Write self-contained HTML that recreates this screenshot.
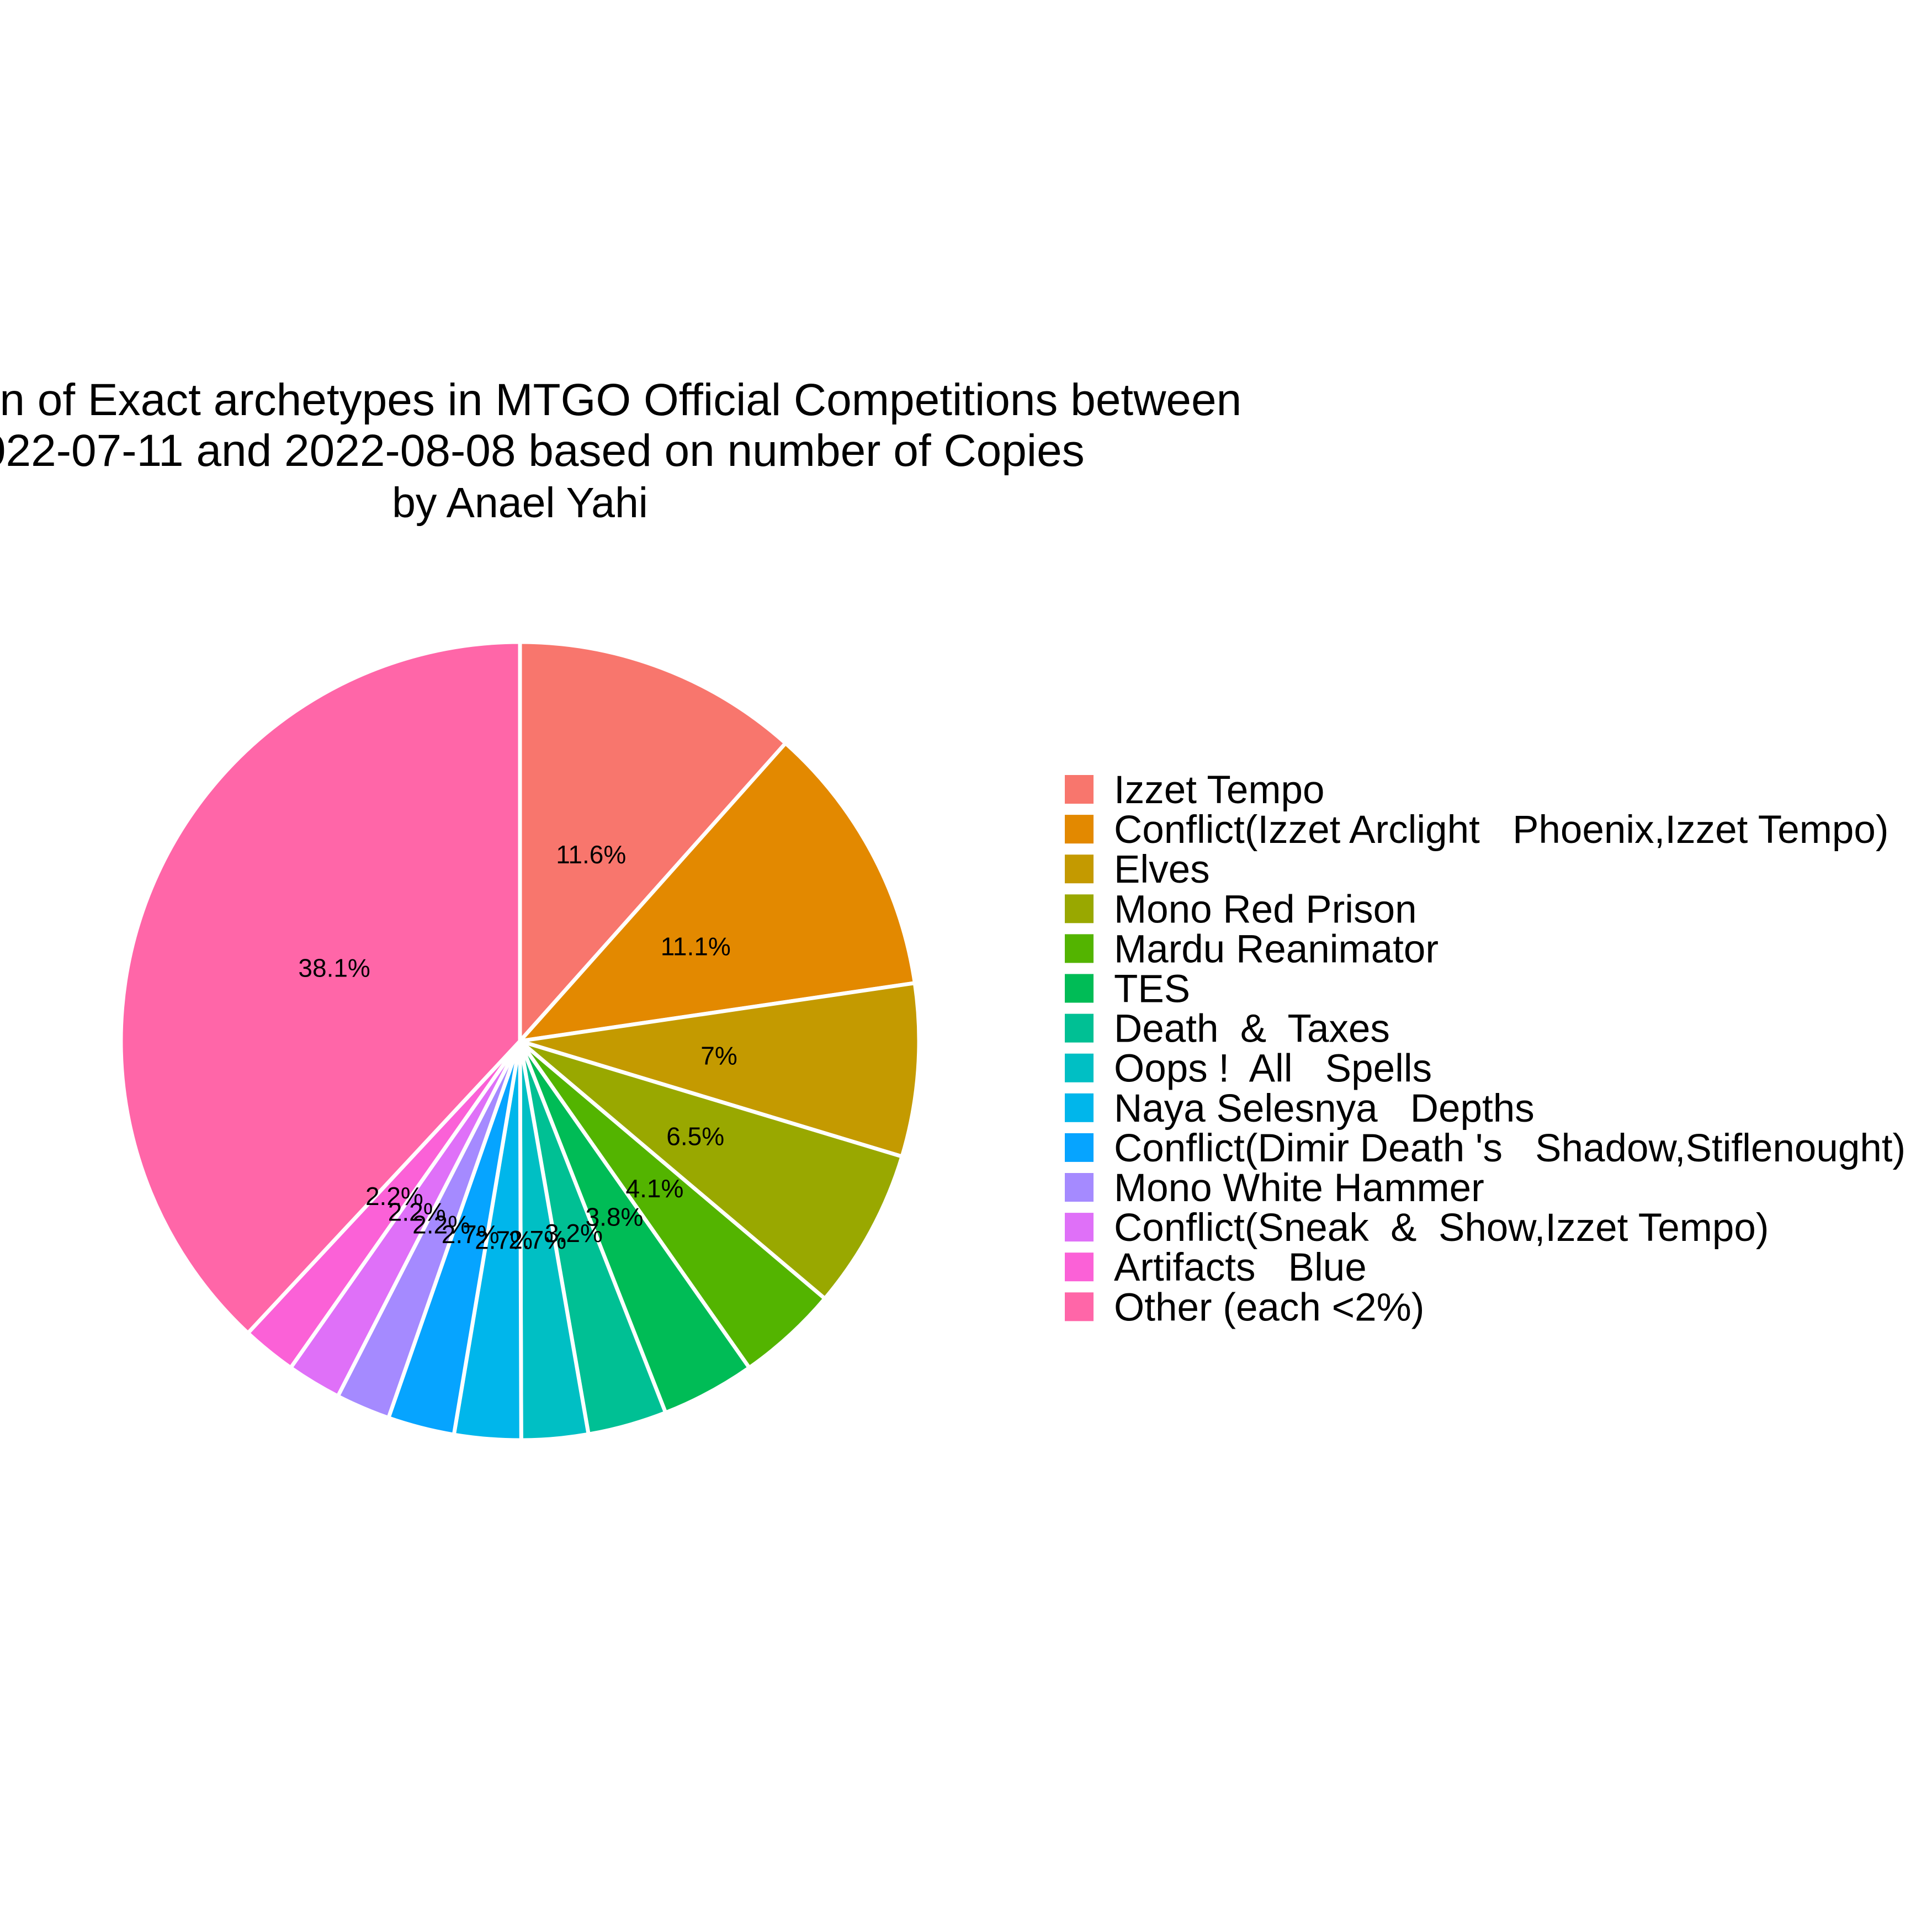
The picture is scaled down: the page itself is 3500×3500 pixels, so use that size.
<!DOCTYPE html>
<html><head><meta charset="utf-8"><style>
body{margin:0;background:#fff}
svg{display:block;font-family:"Liberation Sans",Arial,sans-serif}
</style></head><body>
<svg id="chart" width="3500" height="3500" viewBox="0 0 3500 3500">
<rect width="3500" height="3500" fill="#fff"/>
<text x="942" y="752" font-size="82" text-anchor="middle">Distribution of Exact archetypes in MTGO Official Competitions between</text>
<text x="942" y="844" font-size="82" text-anchor="middle">2022-07-11 and 2022-08-08 based on number of Copies</text>
<text x="942" y="937" font-size="77" text-anchor="middle">by Anael Yahi</text>
<g id="slices"></g>
<g id="labels"></g>
<g id="legend"></g>
</svg>
<script>
const categories = ["Izzet Tempo","Conflict(Izzet Arclight   Phoenix,Izzet Tempo)","Elves","Mono Red Prison","Mardu Reanimator","TES","Death  &  Taxes","Oops !  All   Spells","Naya Selesnya   Depths","Conflict(Dimir Death 's   Shadow,Stiflenought)","Mono White Hammer","Conflict(Sneak  &  Show,Izzet Tempo)","Artifacts   Blue","Other (each <2%)"];
const values = [11.6,11.1,7,6.5,4.1,3.8,3.2,2.7,2.7,2.7,2.2,2.2,2.2,38.1];
const labels = ["11.6%","11.1%","7%","6.5%","4.1%","3.8%","3.2%","2.7%","2.7%","2.7%","2.2%","2.2%","2.2%","38.1%"];
const colors = ["#F8766D","#E38900","#C49A00","#99A800","#53B400","#00BC56","#00C094","#00BFC4","#00B6EB","#06A4FF","#A58AFF","#DF70F8","#FB61D7","#FF66A8"];
const NS="http://www.w3.org/2000/svg";
const cx=942, cy=1886, R=723;
const total=values.reduce((a,b)=>a+b,0);
function pt(a,r){return [cx+r*Math.sin(a), cy-r*Math.cos(a)];}
let acc=0;
const gS=document.getElementById('slices'), gL=document.getElementById('labels'), gLeg=document.getElementById('legend');
values.forEach((v,i)=>{
  const a0=acc/total*2*Math.PI; acc+=v; const a1=acc/total*2*Math.PI;
  const p0=pt(a0,R), p1=pt(a1,R);
  const large=(a1-a0)>Math.PI?1:0;
  const p=document.createElementNS(NS,'path');
  p.setAttribute('d',`M${cx},${cy} L${p0[0]},${p0[1]} A${R},${R} 0 ${large} 1 ${p1[0]},${p1[1]} Z`);
  p.setAttribute('fill',colors[i]); p.setAttribute('stroke','#fff'); p.setAttribute('stroke-width','7');
  
  
  gS.appendChild(p);
  const m=pt((a0+a1)/2,R/2);
  const t=document.createElementNS(NS,'text');
  t.setAttribute('x',m[0]); t.setAttribute('y',m[1]+16);
  t.setAttribute('font-size','46'); t.setAttribute('text-anchor','middle');
  t.textContent=labels[i];
  
  
  gL.appendChild(t);
  const y=1404+i*72.1;
  const r=document.createElementNS(NS,'rect');
  r.setAttribute('x',1929); r.setAttribute('y',y); r.setAttribute('width',52); r.setAttribute('height',52);
  r.setAttribute('fill',colors[i]);
  
  
  gLeg.appendChild(r);
  const lt=document.createElementNS(NS,'text');
  lt.setAttribute('x',2018); lt.setAttribute('y',y+51);
  lt.setAttribute('font-size','71'); lt.style.whiteSpace='pre';
  lt.textContent=categories[i];
  
  
  gLeg.appendChild(lt);
});
</script>
</body></html>
